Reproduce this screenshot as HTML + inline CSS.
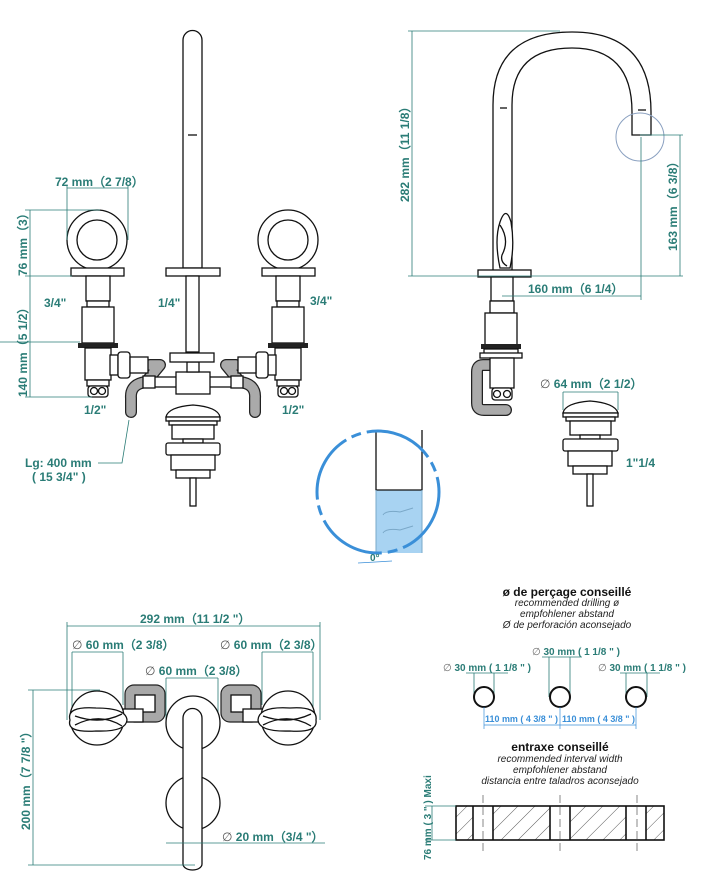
<!DOCTYPE html>
<html><head><meta charset="utf-8">
<style>
html,body{margin:0;padding:0;background:#fff;}
svg{display:block;}
.t{font-family:"Liberation Sans",sans-serif;font-weight:bold;fill:#2a7c76;font-size:12px;}
.k{fill:none;stroke:#111;stroke-width:1.3;}
.w{fill:#fff;stroke:#111;stroke-width:1.3;}
.g{fill:#a8a8a8;stroke:#222;stroke-width:1.2;}
.ho{fill:none;stroke:#222;stroke-width:12;stroke-linecap:round;stroke-linejoin:round;}
.hi{fill:none;stroke:#aaa;stroke-width:9.5;stroke-linecap:round;stroke-linejoin:round;}
.d{fill:none;stroke:#2a7c76;stroke-width:0.8;}
.i{font-family:"Liberation Sans",sans-serif;font-style:italic;font-size:10px;fill:#222;}
.b{font-family:"Liberation Sans",sans-serif;font-weight:bold;font-size:12px;fill:#111;}
.bl{font-family:"Liberation Sans",sans-serif;font-weight:bold;font-size:9.5px;fill:#3a8fd8;}
.tt{font-family:"Liberation Sans",sans-serif;font-weight:bold;fill:#2a7c76;font-size:10px;}
</style></head><body>
<svg width="708" height="883" viewBox="0 0 708 883" xmlns="http://www.w3.org/2000/svg">
<defs>
<pattern id="h" patternUnits="userSpaceOnUse" width="12" height="12" patternTransform="rotate(45)">
<line x1="0" y1="0" x2="0" y2="12" stroke="#333" stroke-width="0.8"/></pattern>
</defs>

<!-- ========== TOP LEFT FRONT VIEW ========== -->
<path class="w" d="M183,268 V40 A9.5,9.5 0 0 1 202,40 V268 Z"/>
<line class="k" x1="188" y1="135" x2="197" y2="135" stroke-width="0.8"/>
<rect class="w" x="166" y="268" width="54" height="8"/>
<rect class="w" x="186" y="276" width="13" height="76"/>
<circle class="w" cx="97" cy="240" r="30"/>
<circle class="w" cx="97" cy="240" r="20"/>
<rect class="w" x="71" y="268" width="53" height="8"/>
<rect class="w" x="86" y="276" width="24" height="25"/>
<rect class="w" x="87" y="301" width="22" height="6"/>
<rect class="w" x="82" y="307" width="32" height="36"/>
<rect x="78" y="343" width="40" height="5" fill="#222"/>
<rect class="w" x="85" y="348" width="26" height="32"/>
<rect class="w" x="87" y="380" width="22" height="6"/>
<rect class="w" x="88" y="386" width="20" height="11" rx="3"/>
<circle class="k" cx="94" cy="391" r="3.5"/><circle class="k" cx="102" cy="391" r="3.5"/>
<circle class="w" cx="288" cy="240" r="30"/>
<circle class="w" cx="288" cy="240" r="20"/>
<rect class="w" x="262" y="268" width="53" height="8"/>
<rect class="w" x="276" y="276" width="24" height="25"/>
<rect class="w" x="277" y="301" width="22" height="6"/>
<rect class="w" x="272" y="307" width="32" height="36"/>
<rect x="268" y="343" width="40" height="5" fill="#222"/>
<rect class="w" x="275" y="348" width="26" height="32"/>
<rect class="w" x="277" y="380" width="22" height="6"/>
<rect class="w" x="278" y="386" width="20" height="11" rx="3"/>
<circle class="k" cx="284" cy="391" r="3.5"/><circle class="k" cx="292" cy="391" r="3.5"/>
<!-- hoses -->
<path class="ho" d="M150,365 H160 L146,382 Q130,384 131,398 V412"/>
<path class="hi" d="M150,365 H160 L146,382 Q130,384 131,398 V412"/>
<path class="ho" d="M236,365 H226 L240,382 Q256,384 255,398 V412"/>
<path class="hi" d="M236,365 H226 L240,382 Q256,384 255,398 V412"/>
<!-- connectors -->
<rect class="w" x="110" y="355" width="8" height="20"/>
<rect class="w" x="118" y="352" width="12" height="26" rx="3"/>
<rect class="w" x="130" y="357" width="18" height="16"/>
<rect class="w" x="268" y="355" width="8" height="20"/>
<rect class="w" x="256" y="352" width="12" height="26" rx="3"/>
<rect class="w" x="238" y="357" width="18" height="16"/>
<rect class="w" x="152" y="377" width="82" height="10"/>
<rect class="w" x="143" y="376" width="12" height="12"/>
<rect class="w" x="231" y="376" width="12" height="12"/>
<rect class="w" x="176" y="372" width="34" height="22"/>
<rect class="w" x="187" y="362" width="12" height="10"/>
<rect class="w" x="170" y="353" width="44" height="9"/>
<path class="w" d="M166,417 Q168,407 193,405 Q218,407 220,417 Z"/>
<rect class="w" x="166" y="417" width="54" height="4"/>
<rect class="w" x="169" y="421" width="48" height="4"/>
<rect class="w" x="172" y="425" width="42" height="14"/>
<rect class="w" x="183" y="439" width="20" height="4"/>
<rect class="w" x="166" y="443" width="54" height="12" rx="2"/>
<rect class="w" x="171" y="455" width="44" height="15"/>
<rect class="w" x="176" y="470" width="34" height="8"/>
<rect class="w" x="190" y="478" width="6" height="28"/>
<line class="d" x1="67" y1="186" x2="67" y2="240"/>
<line class="d" x1="128" y1="186" x2="128" y2="240"/>
<line class="d" x1="67" y1="188" x2="128" y2="188"/>
<text class="t" x="55" y="186">72 mm（2 7/8）</text>
<line class="d" x1="25" y1="210" x2="100" y2="210"/>
<line class="d" x1="25" y1="276" x2="72" y2="276"/>
<line class="d" x1="25" y1="397" x2="92" y2="397"/>
<line class="d" x1="0" y1="342" x2="80" y2="342"/>
<line class="d" x1="30" y1="210" x2="30" y2="397"/>
<text class="t" transform="translate(27,276) rotate(-90)">76 mm（3）</text>
<text class="t" transform="translate(27,397) rotate(-90)">140 mm（5 1/2）</text>
<text class="t" x="44" y="307">3/4"</text>
<text class="t" x="158" y="307">1/4"</text>
<text class="t" x="310" y="305">3/4"</text>
<text class="t" x="84" y="414">1/2"</text>
<text class="t" x="282" y="414">1/2"</text>
<polyline class="d" points="129,420 122,463 98,463"/>
<text class="t" x="25" y="467">Lg: 400 mm</text>
<text class="t" x="32" y="481">( 15 3/4" )</text>

<!-- ========== TOP RIGHT SIDE VIEW ========== -->
<path class="k" d="M493,272 V105 Q493,32 572,32 Q651,32 651,112 V135 H632 V112 Q632,48 572,48 Q512,48 512,105 V272"/>
<line class="k" x1="500" y1="108" x2="507" y2="108" stroke-width="0.8"/>
<line class="k" x1="638" y1="110" x2="646" y2="110" stroke-width="0.8"/>
<path class="w" d="M500,268 Q494,240 500,222 Q506,205 511,222 Q515,245 510,268 Z"/>
<path class="k" d="M500,225 Q510,240 502,255 Q500,262 507,266" stroke-width="0.8"/>
<circle cx="640" cy="137" r="24" fill="none" stroke="#8aa0c0" stroke-width="1"/>
<rect class="w" x="478" y="270" width="53" height="7"/>
<rect class="w" x="491" y="277" width="22" height="24"/>
<rect class="w" x="490" y="301" width="24" height="12"/>
<rect class="w" x="485" y="313" width="32" height="33"/>
<rect x="481" y="344" width="40" height="5" fill="#222"/>
<rect class="w" x="484" y="349" width="34" height="8"/>
<rect class="w" x="480" y="353" width="42" height="5"/>
<path class="ho" d="M492,365 H483 Q477,365 477,372 V403 Q477,410 484,410 H506"/>
<path class="hi" d="M492,365 H483 Q477,365 477,372 V403 Q477,410 484,410 H506"/>
<rect class="w" x="490" y="358" width="24" height="30"/>
<rect class="w" x="492" y="388" width="20" height="12" rx="3"/>
<circle class="k" cx="497" cy="394" r="3.5"/><circle class="k" cx="507" cy="394" r="3.5"/>
<line class="d" x1="408" y1="31" x2="560" y2="31"/>
<line class="d" x1="408" y1="276" x2="683" y2="276"/>
<line class="d" x1="412" y1="31" x2="412" y2="276"/>
<text class="t" transform="translate(409,202) rotate(-90)">282 mm（11 1/8）</text>
<line class="d" x1="640" y1="135" x2="683" y2="135"/>
<line class="d" x1="680" y1="135" x2="680" y2="276"/>
<text class="t" transform="translate(677,251) rotate(-90)">163 mm（6 3/8）</text>
<line class="d" x1="641" y1="137" x2="641" y2="300"/>
<line class="d" x1="502" y1="296" x2="641" y2="296"/>
<text class="t" x="528" y="293">160 mm（6 1/4）</text>
<text class="t" x="540" y="388"><tspan font-weight="normal" fill="#555">∅</tspan> 64 mm（2 1/2）</text>
<line class="d" x1="563" y1="392" x2="618" y2="392"/>
<line class="d" x1="563" y1="392" x2="563" y2="410"/>
<line class="d" x1="618" y1="392" x2="618" y2="410"/>
<path class="w" d="M563,413 Q565,403 590,401 Q615,403 618,413 Z"/>
<rect class="w" x="563" y="413" width="55" height="4"/>
<rect class="w" x="566" y="417" width="49" height="4"/>
<rect class="w" x="570" y="421" width="41" height="14"/>
<rect class="w" x="580" y="435" width="20" height="4"/>
<rect class="w" x="563" y="439" width="55" height="12" rx="2"/>
<rect class="w" x="568" y="451" width="44" height="15"/>
<rect class="w" x="573" y="466" width="34" height="8"/>
<rect class="w" x="587" y="474" width="6" height="32"/>
<text class="t" x="626" y="467">1"1/4</text>

<!-- ========== DETAIL CIRCLE ========== -->
<rect x="376" y="490" width="46" height="63" fill="#a8d3f2"/>
<path d="M383,515 Q386,510 400,512 L413,508 M383,533 Q386,528 400,530 L413,526" fill="none" stroke="#7aa8c8" stroke-width="1"/>
<path class="k" d="M376,430 V490 H422 V430"/>
<line x1="376" y1="490" x2="376" y2="553" stroke="#7aa8c8" stroke-width="1"/>
<line x1="422" y1="490" x2="422" y2="553" stroke="#7aa8c8" stroke-width="1"/>
<circle cx="378" cy="492" r="61" fill="none" stroke="#3a8fd8" stroke-width="3" stroke-dasharray="70 6 10 6"/>
<text class="tt" x="370" y="561" fill="#3a6fa0" font-weight="normal">0°</text>
<line x1="358" y1="563" x2="392" y2="561" stroke="#3a8fd8" stroke-width="0.8"/>

<!-- ========== BOTTOM LEFT TOP VIEW ========== -->
<line class="d" x1="67" y1="626" x2="320" y2="626"/>
<line class="d" x1="67" y1="622" x2="67" y2="720"/>
<line class="d" x1="320" y1="622" x2="320" y2="720"/>
<text class="t" x="140" y="623">292 mm（11 1/2 "）</text>
<text class="t" x="72" y="649"><tspan font-weight="normal" fill="#555">∅</tspan> 60 mm（2 3/8）</text>
<line class="d" x1="72" y1="652" x2="123" y2="652"/>
<line class="d" x1="72" y1="652" x2="72" y2="720"/>
<line class="d" x1="123" y1="652" x2="123" y2="705"/>
<text class="t" x="220" y="649"><tspan font-weight="normal" fill="#555">∅</tspan> 60 mm（2 3/8）</text>
<line class="d" x1="262" y1="652" x2="313" y2="652"/>
<line class="d" x1="262" y1="652" x2="262" y2="705"/>
<line class="d" x1="313" y1="652" x2="313" y2="720"/>
<text class="t" x="145" y="675"><tspan font-weight="normal" fill="#555">∅</tspan> 60 mm（2 3/8）</text>
<line class="d" x1="166" y1="678" x2="218" y2="678"/>
<line class="d" x1="166" y1="678" x2="166" y2="720"/>
<line class="d" x1="218" y1="678" x2="218" y2="720"/>
<!-- grey rings -->
<rect class="g" x="125" y="685" width="40" height="37" rx="9"/>
<rect class="w" x="135" y="695" width="20" height="17"/>
<rect class="w" x="123" y="709" width="20" height="13"/>
<rect class="g" x="221" y="685" width="40" height="37" rx="9"/>
<rect class="w" x="231" y="695" width="20" height="17"/>
<rect class="w" x="243" y="709" width="20" height="13"/>
<circle class="w" cx="97" cy="718" r="27"/>
<circle class="w" cx="288" cy="718" r="27"/>
<circle class="w" cx="193" cy="723" r="27"/>
<circle class="w" cx="193" cy="803" r="27"/>
<path class="w" d="M70,720 Q66,706 96,708 Q126,708 127,720 Q126,732 96,731 Q66,733 70,720 Z"/>
<path class="k" d="M75,716 Q100,725 122,714 M75,725 Q100,712 122,726" stroke-width="0.8"/>
<path class="w" d="M258,720 Q259,706 290,708 Q318,706 316,720 Q318,733 290,731 Q259,732 258,720 Z"/>
<path class="k" d="M263,716 Q288,725 311,714 M263,725 Q288,712 311,726" stroke-width="0.8"/>
<path class="w" d="M183,864 V718 A9.5,9.5 0 0 1 202,718 V864 A9.5,6 0 0 1 183,864 Z"/>
<line class="d" x1="28" y1="690" x2="100" y2="690"/>
<line class="d" x1="28" y1="865" x2="195" y2="865"/>
<line class="d" x1="33" y1="690" x2="33" y2="865"/>
<text class="t" transform="translate(30,830) rotate(-90)">200 mm（7 7/8 "）</text>
<text class="t" x="222" y="841"><tspan font-weight="normal" fill="#555">∅</tspan> 20 mm（3/4 "）</text>
<line class="d" x1="166" y1="843" x2="325" y2="843"/>

<!-- ========== BOTTOM RIGHT ========== -->
<text class="b" x="567" y="596" text-anchor="middle">ø de perçage conseillé</text>
<text class="i" x="567" y="606" text-anchor="middle">recommended drilling ø</text>
<text class="i" x="567" y="617" text-anchor="middle">empfohlener abstand</text>
<text class="i" x="567" y="628" text-anchor="middle">Ø de perforación aconsejado</text>
<text class="tt" x="532" y="655"><tspan font-weight="normal" fill="#666">∅</tspan> 30 mm ( 1 1/8 " )</text>
<text class="tt" x="443" y="671"><tspan font-weight="normal" fill="#666">∅</tspan> 30 mm ( 1 1/8 " )</text>
<text class="tt" x="598" y="671"><tspan font-weight="normal" fill="#666">∅</tspan> 30 mm ( 1 1/8 " )</text>
<line class="d" x1="466" y1="673" x2="508" y2="673"/>
<line class="d" x1="474" y1="673" x2="474" y2="697"/><line class="d" x1="494" y1="673" x2="494" y2="697"/>
<line class="d" x1="542" y1="657" x2="582" y2="657"/>
<line class="d" x1="549" y1="657" x2="549" y2="697"/><line class="d" x1="570" y1="657" x2="570" y2="697"/>
<line class="d" x1="620" y1="673" x2="660" y2="673"/>
<line class="d" x1="626" y1="673" x2="626" y2="697"/><line class="d" x1="647" y1="673" x2="647" y2="697"/>
<circle cx="484" cy="697" r="10" fill="#fff" stroke="#111" stroke-width="2"/>
<circle cx="560" cy="697" r="10" fill="#fff" stroke="#111" stroke-width="2"/>
<circle cx="636" cy="697" r="10" fill="#fff" stroke="#111" stroke-width="2"/>
<line x1="484" y1="707" x2="484" y2="729" stroke="#3a8fd8" stroke-width="0.7"/>
<line x1="560" y1="707" x2="560" y2="729" stroke="#3a8fd8" stroke-width="0.7"/>
<line x1="636" y1="707" x2="636" y2="729" stroke="#3a8fd8" stroke-width="0.7"/>
<line x1="484" y1="725" x2="636" y2="725" stroke="#3a8fd8" stroke-width="0.7"/>
<text class="bl" x="485" y="722" textLength="73" lengthAdjust="spacingAndGlyphs">110 mm ( 4 3/8 " )</text>
<text class="bl" x="562" y="722" textLength="73" lengthAdjust="spacingAndGlyphs">110 mm ( 4 3/8 " )</text>
<text class="b" x="560" y="751" text-anchor="middle">entraxe conseillé</text>
<text class="i" x="560" y="762" text-anchor="middle">recommended interval width</text>
<text class="i" x="560" y="773" text-anchor="middle">empfohlener abstand</text>
<text class="i" x="560" y="784" text-anchor="middle">distancia entre taladros aconsejado</text>
<rect x="456" y="806" width="17" height="34" fill="url(#h)"/>
<rect x="493" y="806" width="57" height="34" fill="url(#h)"/>
<rect x="570" y="806" width="56" height="34" fill="url(#h)"/>
<rect x="646" y="806" width="18" height="34" fill="url(#h)"/>
<rect x="456" y="806" width="208" height="34" fill="none" stroke="#111" stroke-width="1.6"/>
<g stroke="#111" stroke-width="1.6"><line x1="473" y1="806" x2="473" y2="840"/><line x1="493" y1="806" x2="493" y2="840"/><line x1="550" y1="806" x2="550" y2="840"/><line x1="570" y1="806" x2="570" y2="840"/><line x1="626" y1="806" x2="626" y2="840"/><line x1="646" y1="806" x2="646" y2="840"/></g>
<g stroke="#555" stroke-width="0.7" stroke-dasharray="8 4"><line x1="483" y1="795" x2="483" y2="852"/><line x1="560" y1="795" x2="560" y2="852"/><line x1="637" y1="795" x2="637" y2="852"/></g>
<line class="d" x1="425" y1="806" x2="456" y2="806"/>
<line class="d" x1="425" y1="840" x2="456" y2="840"/>
<line class="d" x1="432" y1="806" x2="432" y2="840"/>
<text class="tt" transform="translate(431,860) rotate(-90)">76 mm ( 3 " )  Maxi</text>
</svg>
</body></html>
